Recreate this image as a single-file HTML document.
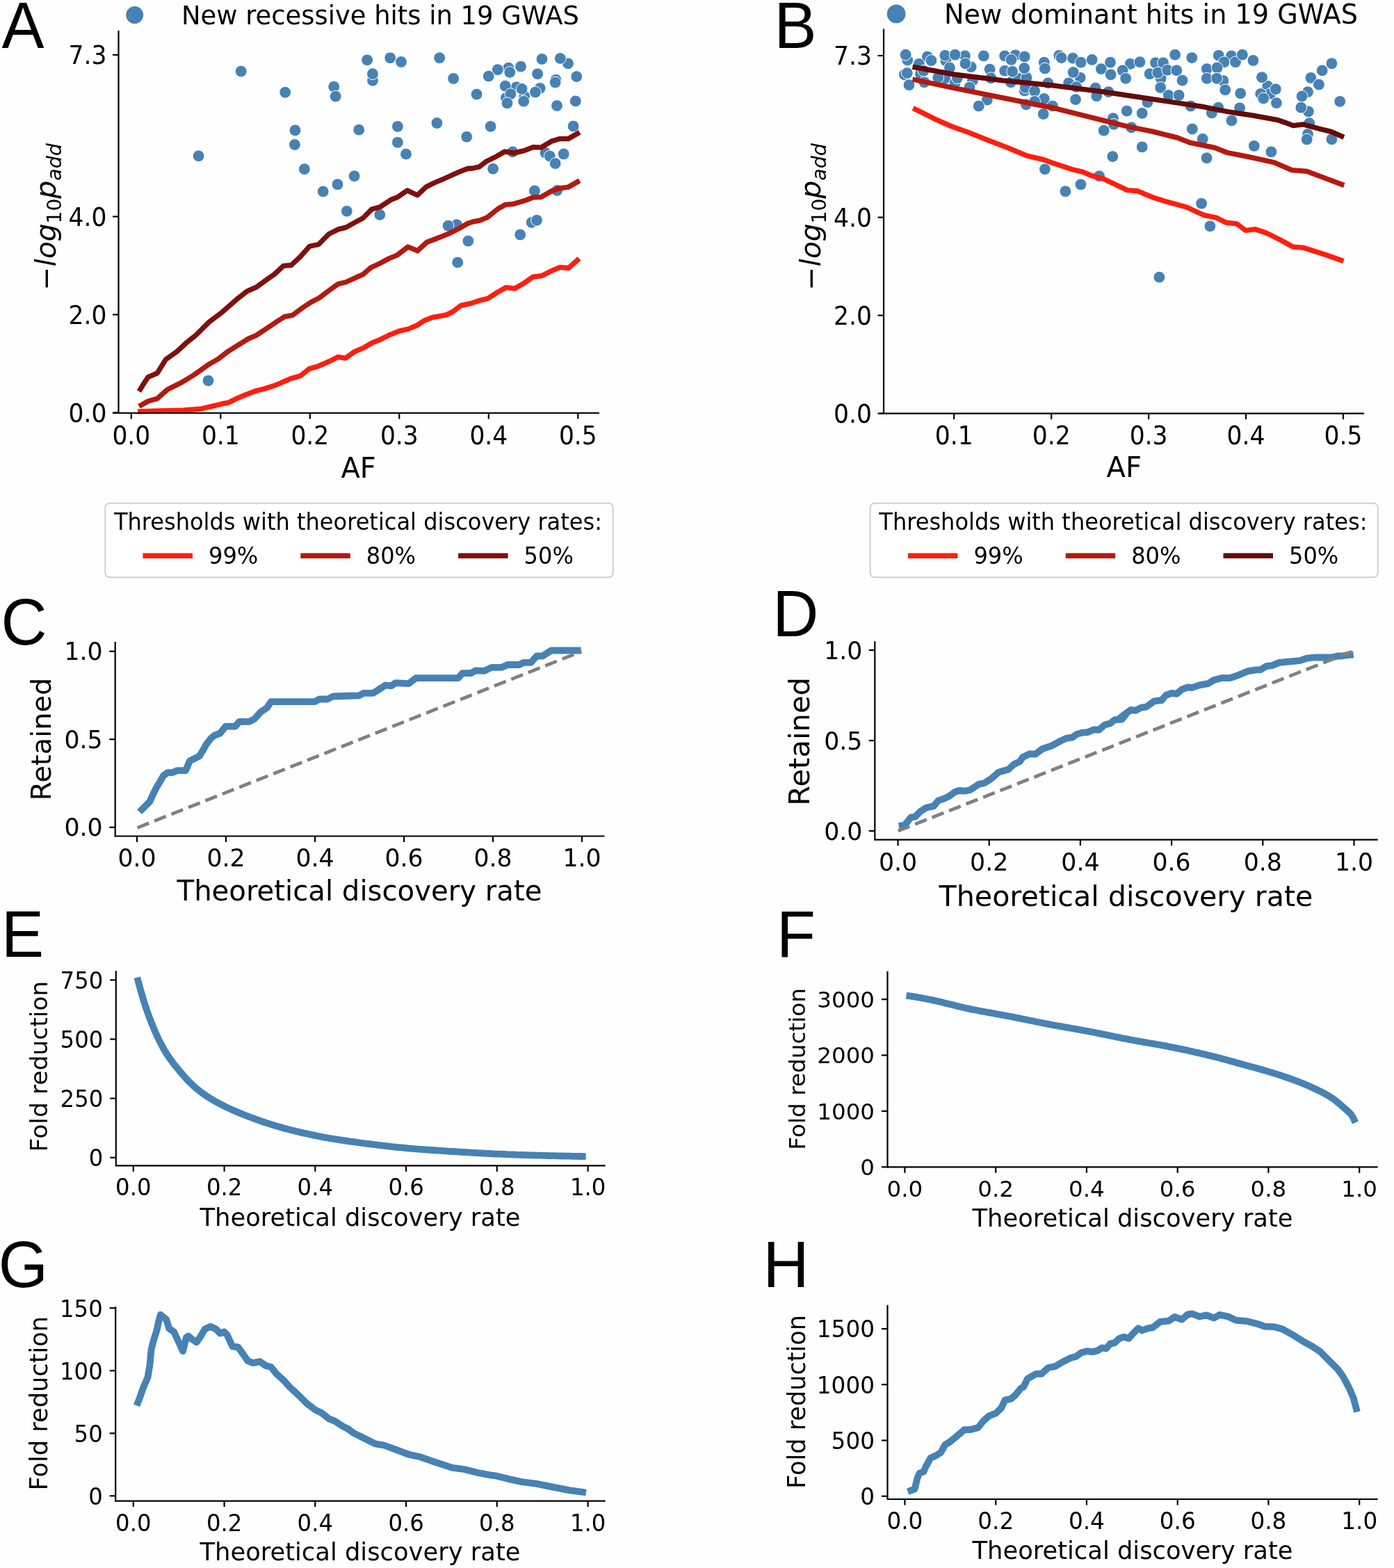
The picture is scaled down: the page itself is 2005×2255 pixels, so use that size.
<!DOCTYPE html>
<html><head><meta charset="utf-8"><style>
html,body{margin:0;padding:0;background:#fff;}
svg{display:block;}
</style></head><body>
<svg width="2005" height="2255" viewBox="0 0 2005 2255">
<rect width="2005" height="2255" fill="#fefefe"/>
<circle cx="193.7" cy="21.6" r="12.5" fill="#4682b4"/>
<circle cx="1289.1" cy="19.9" r="13.4" fill="#4682b4"/>
<rect x="151.3" y="723.7" width="730.4000000000001" height="106.5" rx="6" fill="#fff" stroke="#d0d0d0" stroke-width="2"/>
<rect x="1251.7" y="723.7" width="730.0" height="106.5" rx="6" fill="#fff" stroke="#d0d0d0" stroke-width="2"/>
<polyline points="200.6,1167.6 207.6,1160.6 215.5,1152.7 219.4,1143.8 225.4,1131.9 228.4,1127.0 235.3,1115.1 241.2,1111.1 248.2,1111.1 255.1,1108.1 267.0,1108.1 270.0,1101.2 272.9,1094.3 278.9,1091.3 286.8,1087.3 291.8,1079.4 296.7,1070.5 302.7,1062.6 308.6,1057.6 316.5,1054.6 324.5,1044.7 338.3,1044.7 344.3,1037.8 358.1,1037.8 366.1,1033.8 375.0,1023.9 383.9,1018.0 389.8,1009.1 453.2,1009.1 459.2,1005.5 471.1,1005.5 479.0,1001.5 516.7,1000.3 523.0,996.8 536.6,996.8 541.8,993.6 554.4,985.3 562.7,986.3 569.0,982.1 587.8,983.2 598.3,975.2 658.9,975.2 665.2,968.1 677.7,968.1 684.0,964.4 696.6,964.8 707.0,959.8 721.7,959.8 730.0,956.0 746.8,956.0 753.0,952.9 763.5,952.9 771.9,943.5 780.2,943.5 792.8,935.5 835.6,935.5" fill="none" stroke="#4682b4" stroke-width="9.8" stroke-linejoin="round" stroke-linecap="butt"/>
<polyline points="1292.7,1187.9 1300.8,1186.9 1305.9,1180.8 1310.0,1175.7 1316.1,1174.7 1324.2,1166.6 1332.4,1161.5 1342.6,1159.4 1349.7,1151.3 1358.8,1148.2 1365.0,1145.2 1373.1,1139.1 1379.2,1137.0 1387.4,1137.7 1395.5,1136.0 1407.7,1127.9 1415.9,1126.2 1426.0,1119.7 1436.2,1110.6 1450.5,1106.5 1458.6,1099.0 1466.8,1095.3 1470.8,1089.2 1481.0,1084.1 1489.2,1084.7 1499.3,1077.0 1511.6,1072.9 1517.7,1069.8 1525.8,1065.4 1534.0,1061.7 1542.1,1060.7 1548.2,1056.2 1556.4,1053.6 1564.5,1053.1 1572.7,1049.5 1580.8,1049.5 1588.9,1042.4 1597.1,1040.3 1603.2,1035.2 1613.4,1034.6 1619.5,1027.1 1610.0,1033.4 1616.3,1028.2 1626.7,1020.8 1633.0,1021.9 1641.4,1017.7 1648.7,1016.6 1660.2,1008.3 1670.6,1007.2 1676.9,999.9 1685.3,996.8 1692.6,997.8 1699.9,991.6 1708.3,988.4 1714.6,989.0 1725.0,985.3 1737.6,983.2 1745.9,978.0 1758.5,974.8 1768.9,975.2 1779.4,971.7 1794.0,965.4 1806.6,963.3 1812.8,963.3 1821.2,958.1 1829.6,957.1 1840.0,952.9 1850.5,951.8 1869.3,950.2 1879.8,946.6 1890.2,945.5 1902.8,945.5 1915.3,945.5 1923.7,943.5 1929.9,943.5 1936.2,942.4 1946.7,941.4" fill="none" stroke="#4682b4" stroke-width="9.8" stroke-linejoin="round" stroke-linecap="butt"/>
<polyline points="197.3,1405.8 200.6,1417.9 203.8,1429.4 207.1,1440.5 210.3,1450.4 213.5,1459.4 216.8,1467.9 220.0,1476.1 223.3,1484.0 226.5,1491.1 229.8,1497.8 233.0,1504.0 236.2,1509.9 239.5,1515.2 242.7,1520.1 246.0,1524.7 249.2,1529.0 252.5,1533.1 255.7,1537.0 258.9,1541.0 262.2,1544.8 265.4,1548.5 268.7,1552.1 271.9,1555.6 275.2,1558.8 278.4,1561.8 281.6,1564.6 284.9,1567.3 288.1,1569.9 291.4,1572.3 294.6,1574.6 297.8,1576.8 301.1,1578.8 304.3,1580.8 307.6,1582.7 310.8,1584.6 314.1,1586.3 317.3,1588.0 320.5,1589.7 323.8,1591.3 327.0,1592.9 330.3,1594.4 333.5,1595.9 336.8,1597.3 340.0,1598.7 343.2,1600.1 346.5,1601.4 349.7,1602.7 353.0,1604.0 356.2,1605.3 359.5,1606.5 362.7,1607.7 365.9,1608.9 369.2,1610.1 372.4,1611.2 375.7,1612.4 378.9,1613.5 382.1,1614.6 385.4,1615.6 388.6,1616.6 391.9,1617.6 395.1,1618.6 398.4,1619.6 401.6,1620.5 404.8,1621.5 408.1,1622.4 411.3,1623.3 414.6,1624.1 417.8,1625.0 421.1,1625.8 424.3,1626.6 427.5,1627.4 430.8,1628.1 434.0,1628.9 437.3,1629.6 440.5,1630.3 443.8,1631.0 447.0,1631.7 450.2,1632.4 453.5,1633.1 456.7,1633.7 460.0,1634.4 463.2,1635.0 466.4,1635.6 469.7,1636.2 472.9,1636.8 476.2,1637.3 479.4,1637.9 482.7,1638.4 485.9,1638.9 489.1,1639.4 492.4,1639.9 495.6,1640.4 498.9,1640.9 502.1,1641.4 505.4,1641.8 508.6,1642.2 511.8,1642.7 515.1,1643.1 518.3,1643.5 521.6,1644.0 524.8,1644.4 528.1,1644.8 531.3,1645.2 534.5,1645.6 537.8,1646.0 541.0,1646.4 544.3,1646.8 547.5,1647.2 550.7,1647.6 554.0,1648.0 557.2,1648.3 560.5,1648.7 563.7,1649.1 567.0,1649.4 570.2,1649.8 573.4,1650.1 576.7,1650.4 579.9,1650.7 583.2,1651.0 586.4,1651.3 589.7,1651.6 592.9,1651.9 596.1,1652.1 599.4,1652.4 602.6,1652.7 605.9,1652.9 609.1,1653.1 612.4,1653.4 615.6,1653.6 618.8,1653.8 622.1,1654.0 625.3,1654.3 628.6,1654.5 631.8,1654.7 635.0,1654.9 638.3,1655.1 641.5,1655.3 644.8,1655.6 648.0,1655.8 651.3,1656.0 654.5,1656.2 657.7,1656.4 661.0,1656.6 664.2,1656.8 667.5,1657.0 670.7,1657.2 674.0,1657.4 677.2,1657.6 680.4,1657.8 683.7,1658.0 686.9,1658.2 690.2,1658.4 693.4,1658.5 696.7,1658.7 699.9,1658.9 703.1,1659.0 706.4,1659.2 709.6,1659.3 712.9,1659.5 716.1,1659.6 719.3,1659.7 722.6,1659.9 725.8,1660.0 729.1,1660.2 732.3,1660.3 735.6,1660.4 738.8,1660.5 742.0,1660.7 745.3,1660.8 748.5,1660.9 751.8,1661.0 755.0,1661.1 758.3,1661.2 761.5,1661.3 764.7,1661.4 768.0,1661.5 771.2,1661.6 774.5,1661.6 777.7,1661.7 781.0,1661.8 784.2,1661.9 787.4,1662.0 790.7,1662.1 793.9,1662.2 797.2,1662.2 800.4,1662.3 803.6,1662.4 806.9,1662.5 810.1,1662.5 813.4,1662.6 816.6,1662.7 819.9,1662.7 823.1,1662.8 826.3,1662.9 829.6,1662.9 832.8,1663.0 836.1,1663.0 839.3,1663.1 842.6,1663.1" fill="none" stroke="#4682b4" stroke-width="9.8" stroke-linejoin="round" stroke-linecap="butt"/>
<polyline points="1303.5,1431.6 1306.7,1432.1 1310.0,1432.6 1313.2,1433.1 1316.5,1433.7 1319.7,1434.2 1323.0,1434.8 1326.2,1435.4 1329.5,1436.0 1332.7,1436.6 1335.9,1437.3 1339.2,1437.9 1342.4,1438.6 1345.7,1439.3 1348.9,1440.1 1352.2,1440.8 1355.4,1441.6 1358.7,1442.4 1361.9,1443.2 1365.2,1444.0 1368.4,1444.8 1371.7,1445.6 1374.9,1446.4 1378.1,1447.2 1381.4,1448.0 1384.6,1448.8 1387.9,1449.5 1391.1,1450.2 1394.4,1450.9 1397.6,1451.6 1400.9,1452.2 1404.1,1452.8 1407.4,1453.5 1410.6,1454.1 1413.9,1454.7 1417.1,1455.3 1420.3,1455.9 1423.6,1456.4 1426.8,1457.0 1430.1,1457.6 1433.3,1458.2 1436.6,1458.8 1439.8,1459.4 1443.1,1460.0 1446.3,1460.6 1449.6,1461.2 1452.8,1461.8 1456.1,1462.4 1459.3,1463.1 1462.5,1463.7 1465.8,1464.4 1469.0,1465.0 1472.3,1465.7 1475.5,1466.4 1478.8,1467.0 1482.0,1467.7 1485.3,1468.3 1488.5,1469.0 1491.8,1469.7 1495.0,1470.3 1498.3,1471.0 1501.5,1471.6 1504.7,1472.2 1508.0,1472.9 1511.2,1473.5 1514.5,1474.1 1517.7,1474.7 1521.0,1475.3 1524.2,1475.8 1527.5,1476.4 1530.7,1477.0 1534.0,1477.6 1537.2,1478.1 1540.5,1478.7 1543.7,1479.3 1546.9,1479.9 1550.2,1480.4 1553.4,1481.0 1556.7,1481.6 1559.9,1482.2 1563.2,1482.8 1566.4,1483.4 1569.7,1484.0 1572.9,1484.6 1576.2,1485.3 1579.4,1485.9 1582.7,1486.6 1585.9,1487.2 1589.1,1487.9 1592.4,1488.5 1595.6,1489.2 1598.9,1489.9 1602.1,1490.5 1605.4,1491.2 1608.6,1491.9 1611.9,1492.5 1615.1,1493.2 1618.4,1493.8 1621.6,1494.4 1624.9,1495.1 1628.1,1495.7 1631.3,1496.3 1634.6,1496.9 1637.8,1497.4 1641.1,1498.0 1644.3,1498.6 1647.6,1499.1 1650.8,1499.7 1654.1,1500.3 1657.3,1500.8 1660.6,1501.4 1663.8,1502.0 1667.1,1502.5 1670.3,1503.1 1673.5,1503.7 1676.8,1504.3 1680.0,1505.0 1683.3,1505.6 1686.5,1506.2 1689.8,1506.9 1693.0,1507.6 1696.3,1508.2 1699.5,1508.9 1702.8,1509.6 1706.0,1510.3 1709.3,1511.0 1712.5,1511.7 1715.7,1512.4 1719.0,1513.2 1722.2,1513.9 1725.5,1514.6 1728.7,1515.4 1732.0,1516.1 1735.2,1516.9 1738.5,1517.7 1741.7,1518.5 1745.0,1519.3 1748.2,1520.1 1751.5,1520.9 1754.7,1521.8 1758.0,1522.7 1761.2,1523.5 1764.4,1524.4 1767.7,1525.3 1770.9,1526.2 1774.2,1527.1 1777.4,1528.0 1780.7,1528.9 1783.9,1529.8 1787.2,1530.7 1790.4,1531.6 1793.7,1532.5 1796.9,1533.4 1800.2,1534.2 1803.4,1535.1 1806.6,1536.0 1809.9,1536.9 1813.1,1537.7 1816.4,1538.7 1819.6,1539.6 1822.9,1540.6 1826.1,1541.6 1829.4,1542.6 1832.6,1543.6 1835.9,1544.6 1839.1,1545.6 1842.4,1546.7 1845.6,1547.8 1848.8,1548.9 1852.1,1550.0 1855.3,1551.2 1858.6,1552.3 1861.8,1553.5 1865.1,1554.8 1868.3,1556.0 1871.6,1557.3 1874.8,1558.6 1878.1,1559.9 1881.3,1561.3 1884.6,1562.7 1887.8,1564.2 1891.0,1565.7 1894.3,1567.2 1897.5,1568.8 1900.8,1570.4 1904.0,1572.1 1907.3,1573.9 1910.5,1575.8 1913.8,1577.8 1917.0,1579.9 1920.3,1582.3 1923.5,1584.9 1926.8,1587.6 1930.0,1590.4 1933.2,1593.3 1936.5,1596.1 1939.7,1599.0 1943.0,1602.4 1946.2,1607.2 1949.5,1614.5" fill="none" stroke="#4682b4" stroke-width="9.8" stroke-linejoin="round" stroke-linecap="butt"/>
<polyline points="196.7,2021.5 201.6,2008.6 205.6,1996.7 212.5,1980.9 215.5,1963.0 217.5,1941.2 220.4,1929.3 225.4,1913.5 228.4,1899.6 230.9,1890.7 234.3,1893.7 239.3,1897.6 243.2,1910.5 250.2,1915.5 257.1,1930.3 263.0,1943.2 268.0,1923.4 271.0,1921.4 276.9,1926.4 282.8,1930.3 288.8,1921.4 294.7,1911.5 302.7,1907.6 310.6,1911.5 316.5,1917.5 322.5,1915.5 326.4,1919.4 334.4,1936.3 342.3,1937.3 348.2,1945.2 356.2,1957.1 364.1,1960.1 374.0,1958.1 381.9,1964.0 389.8,1966.0 397.8,1975.9 407.7,1984.8 417.6,1995.7 429.5,2006.6 441.4,2018.5 453.2,2027.4 463.2,2032.4 473.1,2040.3 481.0,2043.3 492.9,2051.2 500.8,2055.2 500.0,2054.5 508.4,2060.8 520.9,2067.0 539.7,2076.4 552.3,2078.5 566.9,2083.8 587.8,2091.7 604.6,2095.3 625.5,2102.6 650.6,2110.9 667.3,2113.0 688.2,2118.3 704.9,2121.4 713.3,2122.4 730.0,2126.6 750.9,2131.2 771.9,2133.9 792.8,2138.1 819.9,2143.4 843.0,2146.5" fill="none" stroke="#4682b4" stroke-width="9.8" stroke-linejoin="round" stroke-linecap="butt"/>
<polyline points="1305.7,2145.3 1315.6,2141.4 1319.5,2125.5 1322.5,2118.6 1328.5,2116.6 1331.4,2109.7 1338.4,2096.8 1345.3,2093.8 1353.2,2088.8 1359.2,2078.0 1367.1,2073.0 1379.0,2063.1 1386.9,2056.2 1394.8,2056.2 1406.7,2053.2 1414.6,2043.3 1422.6,2036.3 1432.5,2032.4 1440.4,2024.5 1445.4,2013.6 1454.3,2011.6 1460.2,2006.6 1468.1,1996.7 1472.1,1994.7 1478.0,1982.8 1489.9,1975.9 1497.9,1975.9 1507.8,1967.0 1517.7,1965.0 1527.6,1959.1 1539.5,1953.1 1547.4,1951.1 1555.3,1945.2 1563.2,1943.2 1571.2,1944.2 1579.1,1942.2 1585.0,1938.3 1591.0,1939.3 1596.9,1932.3 1602.9,1931.3 1610.0,1924.8 1616.3,1922.7 1623.6,1924.8 1630.9,1916.5 1637.2,1910.2 1642.4,1913.3 1651.8,1910.2 1658.1,1909.1 1668.6,1900.8 1681.1,1899.7 1689.5,1893.9 1699.9,1897.6 1708.3,1890.3 1714.6,1889.3 1725.0,1893.5 1735.5,1891.4 1745.9,1895.5 1754.3,1890.9 1766.8,1893.5 1777.3,1898.7 1794.0,1900.2 1808.7,1903.9 1819.1,1907.7 1831.7,1908.1 1844.2,1911.2 1860.9,1920.6 1877.7,1931.1 1886.0,1935.3 1898.6,1943.6 1911.1,1956.2 1923.7,1968.7 1932.0,1980.2 1940.4,1995.9 1946.7,2010.6 1951.9,2030.4" fill="none" stroke="#4682b4" stroke-width="9.8" stroke-linejoin="round" stroke-linecap="butt"/>
<polyline points="197.6,1190.4 836.6,936.7" fill="none" stroke="#808080" stroke-width="4.8" stroke-linejoin="round" stroke-dasharray="17.9 8.4" stroke-linecap="butt"/>
<polyline points="1291.7,1195.0 1946.7,936.1" fill="none" stroke="#808080" stroke-width="4.8" stroke-linejoin="round" stroke-dasharray="17.9 8.4" stroke-linecap="butt"/>
<circle cx="536.0" cy="115.8" r="8.4" fill="#4682b4" stroke="#fff" stroke-width="1.0"/>
<circle cx="656.9" cy="323.1" r="8.4" fill="#4682b4" stroke="#fff" stroke-width="1.0"/>
<circle cx="731.4" cy="97.6" r="8.4" fill="#4682b4" stroke="#fff" stroke-width="1.0"/>
<circle cx="742.7" cy="125.3" r="8.4" fill="#4682b4" stroke="#fff" stroke-width="1.0"/>
<circle cx="776.7" cy="126.9" r="8.4" fill="#4682b4" stroke="#fff" stroke-width="1.0"/>
<circle cx="727.9" cy="141.0" r="8.4" fill="#4682b4" stroke="#fff" stroke-width="1.0"/>
<circle cx="754.2" cy="138.4" r="8.4" fill="#4682b4" stroke="#fff" stroke-width="1.0"/>
<circle cx="799.5" cy="114.8" r="8.4" fill="#4682b4" stroke="#fff" stroke-width="1.0"/>
<circle cx="817.0" cy="91.3" r="8.4" fill="#4682b4" stroke="#fff" stroke-width="1.0"/>
<circle cx="784.6" cy="219.9" r="8.4" fill="#4682b4" stroke="#fff" stroke-width="1.0"/>
<circle cx="764.7" cy="319.9" r="8.4" fill="#4682b4" stroke="#fff" stroke-width="1.0"/>
<circle cx="346.7" cy="102.6" r="8.4" fill="#4682b4" stroke="#fff" stroke-width="1.0"/>
<circle cx="285.6" cy="224.3" r="8.4" fill="#4682b4" stroke="#fff" stroke-width="1.0"/>
<circle cx="410.2" cy="132.8" r="8.4" fill="#4682b4" stroke="#fff" stroke-width="1.0"/>
<circle cx="480.2" cy="124.7" r="8.4" fill="#4682b4" stroke="#fff" stroke-width="1.0"/>
<circle cx="482.7" cy="138.6" r="8.4" fill="#4682b4" stroke="#fff" stroke-width="1.0"/>
<circle cx="424.5" cy="187.4" r="8.4" fill="#4682b4" stroke="#fff" stroke-width="1.0"/>
<circle cx="423.9" cy="208.0" r="8.4" fill="#4682b4" stroke="#fff" stroke-width="1.0"/>
<circle cx="437.8" cy="243.2" r="8.4" fill="#4682b4" stroke="#fff" stroke-width="1.0"/>
<circle cx="464.7" cy="275.4" r="8.4" fill="#4682b4" stroke="#fff" stroke-width="1.0"/>
<circle cx="485.5" cy="265.2" r="8.4" fill="#4682b4" stroke="#fff" stroke-width="1.0"/>
<circle cx="509.6" cy="253.2" r="8.4" fill="#4682b4" stroke="#fff" stroke-width="1.0"/>
<circle cx="498.8" cy="303.7" r="8.4" fill="#4682b4" stroke="#fff" stroke-width="1.0"/>
<circle cx="528.1" cy="86.3" r="8.4" fill="#4682b4" stroke="#fff" stroke-width="1.0"/>
<circle cx="561.2" cy="83.3" r="8.4" fill="#4682b4" stroke="#fff" stroke-width="1.0"/>
<circle cx="577.0" cy="89.0" r="8.4" fill="#4682b4" stroke="#fff" stroke-width="1.0"/>
<circle cx="535.9" cy="106.2" r="8.4" fill="#4682b4" stroke="#fff" stroke-width="1.0"/>
<circle cx="632.2" cy="83.2" r="8.4" fill="#4682b4" stroke="#fff" stroke-width="1.0"/>
<circle cx="652.1" cy="113.0" r="8.4" fill="#4682b4" stroke="#fff" stroke-width="1.0"/>
<circle cx="685.6" cy="135.6" r="8.4" fill="#4682b4" stroke="#fff" stroke-width="1.0"/>
<circle cx="516.2" cy="186.7" r="8.4" fill="#4682b4" stroke="#fff" stroke-width="1.0"/>
<circle cx="571.9" cy="181.9" r="8.4" fill="#4682b4" stroke="#fff" stroke-width="1.0"/>
<circle cx="571.9" cy="204.8" r="8.4" fill="#4682b4" stroke="#fff" stroke-width="1.0"/>
<circle cx="584.0" cy="221.6" r="8.4" fill="#4682b4" stroke="#fff" stroke-width="1.0"/>
<circle cx="628.4" cy="177.0" r="8.4" fill="#4682b4" stroke="#fff" stroke-width="1.0"/>
<circle cx="671.2" cy="196.8" r="8.4" fill="#4682b4" stroke="#fff" stroke-width="1.0"/>
<circle cx="546.3" cy="308.9" r="8.4" fill="#4682b4" stroke="#fff" stroke-width="1.0"/>
<circle cx="644.6" cy="324.6" r="8.4" fill="#4682b4" stroke="#fff" stroke-width="1.0"/>
<circle cx="673.4" cy="346.6" r="8.4" fill="#4682b4" stroke="#fff" stroke-width="1.0"/>
<circle cx="658.2" cy="377.4" r="8.4" fill="#4682b4" stroke="#fff" stroke-width="1.0"/>
<circle cx="779.5" cy="85.0" r="8.4" fill="#4682b4" stroke="#fff" stroke-width="1.0"/>
<circle cx="805.8" cy="84.0" r="8.4" fill="#4682b4" stroke="#fff" stroke-width="1.0"/>
<circle cx="749.0" cy="95.7" r="8.4" fill="#4682b4" stroke="#fff" stroke-width="1.0"/>
<circle cx="733.3" cy="103.9" r="8.4" fill="#4682b4" stroke="#fff" stroke-width="1.0"/>
<circle cx="715.8" cy="100.2" r="8.4" fill="#4682b4" stroke="#fff" stroke-width="1.0"/>
<circle cx="702.8" cy="109.6" r="8.4" fill="#4682b4" stroke="#fff" stroke-width="1.0"/>
<circle cx="773.1" cy="106.3" r="8.4" fill="#4682b4" stroke="#fff" stroke-width="1.0"/>
<circle cx="798.7" cy="118.5" r="8.4" fill="#4682b4" stroke="#fff" stroke-width="1.0"/>
<circle cx="829.3" cy="110.1" r="8.4" fill="#4682b4" stroke="#fff" stroke-width="1.0"/>
<circle cx="726.7" cy="123.7" r="8.4" fill="#4682b4" stroke="#fff" stroke-width="1.0"/>
<circle cx="750.6" cy="127.9" r="8.4" fill="#4682b4" stroke="#fff" stroke-width="1.0"/>
<circle cx="769.9" cy="132.6" r="8.4" fill="#4682b4" stroke="#fff" stroke-width="1.0"/>
<circle cx="734.4" cy="135.2" r="8.4" fill="#4682b4" stroke="#fff" stroke-width="1.0"/>
<circle cx="729.5" cy="148.3" r="8.4" fill="#4682b4" stroke="#fff" stroke-width="1.0"/>
<circle cx="753.2" cy="145.7" r="8.4" fill="#4682b4" stroke="#fff" stroke-width="1.0"/>
<circle cx="801.0" cy="152.0" r="8.4" fill="#4682b4" stroke="#fff" stroke-width="1.0"/>
<circle cx="827.8" cy="145.4" r="8.4" fill="#4682b4" stroke="#fff" stroke-width="1.0"/>
<circle cx="705.6" cy="181.8" r="8.4" fill="#4682b4" stroke="#fff" stroke-width="1.0"/>
<circle cx="824.6" cy="181.5" r="8.4" fill="#4682b4" stroke="#fff" stroke-width="1.0"/>
<circle cx="737.3" cy="218.4" r="8.4" fill="#4682b4" stroke="#fff" stroke-width="1.0"/>
<circle cx="790.8" cy="224.6" r="8.4" fill="#4682b4" stroke="#fff" stroke-width="1.0"/>
<circle cx="810.7" cy="221.5" r="8.4" fill="#4682b4" stroke="#fff" stroke-width="1.0"/>
<circle cx="798.7" cy="235.1" r="8.4" fill="#4682b4" stroke="#fff" stroke-width="1.0"/>
<circle cx="709.1" cy="242.8" r="8.4" fill="#4682b4" stroke="#fff" stroke-width="1.0"/>
<circle cx="768.9" cy="274.4" r="8.4" fill="#4682b4" stroke="#fff" stroke-width="1.0"/>
<circle cx="801.3" cy="273.9" r="8.4" fill="#4682b4" stroke="#fff" stroke-width="1.0"/>
<circle cx="772.0" cy="316.8" r="8.4" fill="#4682b4" stroke="#fff" stroke-width="1.0"/>
<circle cx="748.2" cy="337.5" r="8.4" fill="#4682b4" stroke="#fff" stroke-width="1.0"/>
<circle cx="299.5" cy="547.4" r="8.4" fill="#4682b4" stroke="#fff" stroke-width="1.0"/>
<circle cx="1305.3" cy="86.4" r="8.4" fill="#4682b4" stroke="#fff" stroke-width="1.0"/>
<circle cx="1333.9" cy="81.5" r="8.4" fill="#4682b4" stroke="#fff" stroke-width="1.0"/>
<circle cx="1360.4" cy="87.5" r="8.4" fill="#4682b4" stroke="#fff" stroke-width="1.0"/>
<circle cx="1387.9" cy="80.4" r="8.4" fill="#4682b4" stroke="#fff" stroke-width="1.0"/>
<circle cx="1396.7" cy="96.3" r="8.4" fill="#4682b4" stroke="#fff" stroke-width="1.0"/>
<circle cx="1445.1" cy="80.4" r="8.4" fill="#4682b4" stroke="#fff" stroke-width="1.0"/>
<circle cx="1460.5" cy="79.3" r="8.4" fill="#4682b4" stroke="#fff" stroke-width="1.0"/>
<circle cx="1300.9" cy="107.3" r="8.4" fill="#4682b4" stroke="#fff" stroke-width="1.0"/>
<circle cx="1321.8" cy="91.9" r="8.4" fill="#4682b4" stroke="#fff" stroke-width="1.0"/>
<circle cx="1324.0" cy="106.2" r="8.4" fill="#4682b4" stroke="#fff" stroke-width="1.0"/>
<circle cx="1359.3" cy="112.8" r="8.4" fill="#4682b4" stroke="#fff" stroke-width="1.0"/>
<circle cx="1365.9" cy="97.4" r="8.4" fill="#4682b4" stroke="#fff" stroke-width="1.0"/>
<circle cx="1373.6" cy="119.4" r="8.4" fill="#4682b4" stroke="#fff" stroke-width="1.0"/>
<circle cx="1398.9" cy="116.1" r="8.4" fill="#4682b4" stroke="#fff" stroke-width="1.0"/>
<circle cx="1445.1" cy="101.8" r="8.4" fill="#4682b4" stroke="#fff" stroke-width="1.0"/>
<circle cx="1453.9" cy="118.3" r="8.4" fill="#4682b4" stroke="#fff" stroke-width="1.0"/>
<circle cx="1464.9" cy="112.8" r="8.4" fill="#4682b4" stroke="#fff" stroke-width="1.0"/>
<circle cx="1473.7" cy="130.4" r="8.4" fill="#4682b4" stroke="#fff" stroke-width="1.0"/>
<circle cx="1329.5" cy="118.3" r="8.4" fill="#4682b4" stroke="#fff" stroke-width="1.0"/>
<circle cx="1419.8" cy="143.7" r="8.4" fill="#4682b4" stroke="#fff" stroke-width="1.0"/>
<circle cx="1476.5" cy="111.7" r="8.4" fill="#4682b4" stroke="#fff" stroke-width="1.0"/>
<circle cx="1501.8" cy="89.7" r="8.4" fill="#4682b4" stroke="#fff" stroke-width="1.0"/>
<circle cx="1523.3" cy="79.8" r="8.4" fill="#4682b4" stroke="#fff" stroke-width="1.0"/>
<circle cx="1553.6" cy="111.7" r="8.4" fill="#4682b4" stroke="#fff" stroke-width="1.0"/>
<circle cx="1537.1" cy="119.4" r="8.4" fill="#4682b4" stroke="#fff" stroke-width="1.0"/>
<circle cx="1625.7" cy="91.9" r="8.4" fill="#4682b4" stroke="#fff" stroke-width="1.0"/>
<circle cx="1600.9" cy="170.1" r="8.4" fill="#4682b4" stroke="#fff" stroke-width="1.0"/>
<circle cx="1662.0" cy="90.3" r="8.4" fill="#4682b4" stroke="#fff" stroke-width="1.0"/>
<circle cx="1653.2" cy="106.2" r="8.4" fill="#4682b4" stroke="#fff" stroke-width="1.0"/>
<circle cx="1669.7" cy="112.8" r="8.4" fill="#4682b4" stroke="#fff" stroke-width="1.0"/>
<circle cx="1752.8" cy="79.8" r="8.4" fill="#4682b4" stroke="#fff" stroke-width="1.0"/>
<circle cx="1771.0" cy="80.4" r="8.4" fill="#4682b4" stroke="#fff" stroke-width="1.0"/>
<circle cx="1735.8" cy="99.1" r="8.4" fill="#4682b4" stroke="#fff" stroke-width="1.0"/>
<circle cx="1759.4" cy="116.1" r="8.4" fill="#4682b4" stroke="#fff" stroke-width="1.0"/>
<circle cx="1823.3" cy="123.8" r="8.4" fill="#4682b4" stroke="#fff" stroke-width="1.0"/>
<circle cx="1827.1" cy="134.8" r="8.4" fill="#4682b4" stroke="#fff" stroke-width="1.0"/>
<circle cx="1752.3" cy="154.7" r="8.4" fill="#4682b4" stroke="#fff" stroke-width="1.0"/>
<circle cx="1813.2" cy="134.9" r="8.4" fill="#4682b4" stroke="#fff" stroke-width="1.0"/>
<circle cx="1881.0" cy="132.2" r="8.4" fill="#4682b4" stroke="#fff" stroke-width="1.0"/>
<circle cx="1881.9" cy="160.4" r="8.4" fill="#4682b4" stroke="#fff" stroke-width="1.0"/>
<circle cx="1883.2" cy="177.1" r="8.4" fill="#4682b4" stroke="#fff" stroke-width="1.0"/>
<circle cx="1881.0" cy="193.0" r="8.4" fill="#4682b4" stroke="#fff" stroke-width="1.0"/>
<circle cx="1581.1" cy="253.2" r="8.4" fill="#4682b4" stroke="#fff" stroke-width="1.0"/>
<circle cx="1302.6" cy="78.7" r="8.4" fill="#4682b4" stroke="#fff" stroke-width="1.0"/>
<circle cx="1339.4" cy="87.0" r="8.4" fill="#4682b4" stroke="#fff" stroke-width="1.0"/>
<circle cx="1359.3" cy="79.8" r="8.4" fill="#4682b4" stroke="#fff" stroke-width="1.0"/>
<circle cx="1373.6" cy="78.7" r="8.4" fill="#4682b4" stroke="#fff" stroke-width="1.0"/>
<circle cx="1388.4" cy="91.4" r="8.4" fill="#4682b4" stroke="#fff" stroke-width="1.0"/>
<circle cx="1414.8" cy="80.4" r="8.4" fill="#4682b4" stroke="#fff" stroke-width="1.0"/>
<circle cx="1454.5" cy="85.9" r="8.4" fill="#4682b4" stroke="#fff" stroke-width="1.0"/>
<circle cx="1473.7" cy="81.5" r="8.4" fill="#4682b4" stroke="#fff" stroke-width="1.0"/>
<circle cx="1304.8" cy="105.1" r="8.4" fill="#4682b4" stroke="#fff" stroke-width="1.0"/>
<circle cx="1328.4" cy="101.8" r="8.4" fill="#4682b4" stroke="#fff" stroke-width="1.0"/>
<circle cx="1349.3" cy="111.7" r="8.4" fill="#4682b4" stroke="#fff" stroke-width="1.0"/>
<circle cx="1376.9" cy="112.3" r="8.4" fill="#4682b4" stroke="#fff" stroke-width="1.0"/>
<circle cx="1394.5" cy="125.5" r="8.4" fill="#4682b4" stroke="#fff" stroke-width="1.0"/>
<circle cx="1423.6" cy="99.6" r="8.4" fill="#4682b4" stroke="#fff" stroke-width="1.0"/>
<circle cx="1425.3" cy="112.3" r="8.4" fill="#4682b4" stroke="#fff" stroke-width="1.0"/>
<circle cx="1456.1" cy="102.9" r="8.4" fill="#4682b4" stroke="#fff" stroke-width="1.0"/>
<circle cx="1473.2" cy="98.0" r="8.4" fill="#4682b4" stroke="#fff" stroke-width="1.0"/>
<circle cx="1474.8" cy="126.0" r="8.4" fill="#4682b4" stroke="#fff" stroke-width="1.0"/>
<circle cx="1307.5" cy="122.2" r="8.4" fill="#4682b4" stroke="#fff" stroke-width="1.0"/>
<circle cx="1407.7" cy="152.5" r="8.4" fill="#4682b4" stroke="#fff" stroke-width="1.0"/>
<circle cx="1475.9" cy="150.3" r="8.4" fill="#4682b4" stroke="#fff" stroke-width="1.0"/>
<circle cx="1488.1" cy="131.0" r="8.4" fill="#4682b4" stroke="#fff" stroke-width="1.0"/>
<circle cx="1501.8" cy="142.0" r="8.4" fill="#4682b4" stroke="#fff" stroke-width="1.0"/>
<circle cx="1502.9" cy="98.5" r="8.4" fill="#4682b4" stroke="#fff" stroke-width="1.0"/>
<circle cx="1507.3" cy="119.4" r="8.4" fill="#4682b4" stroke="#fff" stroke-width="1.0"/>
<circle cx="1526.6" cy="83.1" r="8.4" fill="#4682b4" stroke="#fff" stroke-width="1.0"/>
<circle cx="1543.1" cy="83.7" r="8.4" fill="#4682b4" stroke="#fff" stroke-width="1.0"/>
<circle cx="1554.7" cy="89.7" r="8.4" fill="#4682b4" stroke="#fff" stroke-width="1.0"/>
<circle cx="1570.6" cy="85.9" r="8.4" fill="#4682b4" stroke="#fff" stroke-width="1.0"/>
<circle cx="1583.8" cy="99.1" r="8.4" fill="#4682b4" stroke="#fff" stroke-width="1.0"/>
<circle cx="1597.0" cy="89.7" r="8.4" fill="#4682b4" stroke="#fff" stroke-width="1.0"/>
<circle cx="1597.6" cy="107.3" r="8.4" fill="#4682b4" stroke="#fff" stroke-width="1.0"/>
<circle cx="1614.7" cy="101.3" r="8.4" fill="#4682b4" stroke="#fff" stroke-width="1.0"/>
<circle cx="1619.1" cy="112.8" r="8.4" fill="#4682b4" stroke="#fff" stroke-width="1.0"/>
<circle cx="1639.4" cy="89.2" r="8.4" fill="#4682b4" stroke="#fff" stroke-width="1.0"/>
<circle cx="1653.7" cy="106.2" r="8.4" fill="#4682b4" stroke="#fff" stroke-width="1.0"/>
<circle cx="1543.7" cy="104.0" r="8.4" fill="#4682b4" stroke="#fff" stroke-width="1.0"/>
<circle cx="1548.1" cy="124.9" r="8.4" fill="#4682b4" stroke="#fff" stroke-width="1.0"/>
<circle cx="1547.0" cy="143.1" r="8.4" fill="#4682b4" stroke="#fff" stroke-width="1.0"/>
<circle cx="1575.6" cy="126.6" r="8.4" fill="#4682b4" stroke="#fff" stroke-width="1.0"/>
<circle cx="1577.2" cy="138.2" r="8.4" fill="#4682b4" stroke="#fff" stroke-width="1.0"/>
<circle cx="1594.3" cy="132.1" r="8.4" fill="#4682b4" stroke="#fff" stroke-width="1.0"/>
<circle cx="1650.4" cy="147.0" r="8.4" fill="#4682b4" stroke="#fff" stroke-width="1.0"/>
<circle cx="1488.1" cy="145.9" r="8.4" fill="#4682b4" stroke="#fff" stroke-width="1.0"/>
<circle cx="1513.9" cy="152.5" r="8.4" fill="#4682b4" stroke="#fff" stroke-width="1.0"/>
<circle cx="1500.7" cy="164.0" r="8.4" fill="#4682b4" stroke="#fff" stroke-width="1.0"/>
<circle cx="1620.7" cy="159.6" r="8.4" fill="#4682b4" stroke="#fff" stroke-width="1.0"/>
<circle cx="1642.7" cy="162.9" r="8.4" fill="#4682b4" stroke="#fff" stroke-width="1.0"/>
<circle cx="1602.0" cy="178.9" r="8.4" fill="#4682b4" stroke="#fff" stroke-width="1.0"/>
<circle cx="1587.7" cy="187.7" r="8.4" fill="#4682b4" stroke="#fff" stroke-width="1.0"/>
<circle cx="1627.3" cy="183.3" r="8.4" fill="#4682b4" stroke="#fff" stroke-width="1.0"/>
<circle cx="1690.1" cy="78.7" r="8.4" fill="#4682b4" stroke="#fff" stroke-width="1.0"/>
<circle cx="1714.3" cy="83.1" r="8.4" fill="#4682b4" stroke="#fff" stroke-width="1.0"/>
<circle cx="1673.0" cy="90.3" r="8.4" fill="#4682b4" stroke="#fff" stroke-width="1.0"/>
<circle cx="1665.3" cy="104.6" r="8.4" fill="#4682b4" stroke="#fff" stroke-width="1.0"/>
<circle cx="1679.1" cy="100.7" r="8.4" fill="#4682b4" stroke="#fff" stroke-width="1.0"/>
<circle cx="1692.3" cy="101.3" r="8.4" fill="#4682b4" stroke="#fff" stroke-width="1.0"/>
<circle cx="1700.5" cy="115.6" r="8.4" fill="#4682b4" stroke="#fff" stroke-width="1.0"/>
<circle cx="1669.2" cy="126.0" r="8.4" fill="#4682b4" stroke="#fff" stroke-width="1.0"/>
<circle cx="1680.7" cy="137.0" r="8.4" fill="#4682b4" stroke="#fff" stroke-width="1.0"/>
<circle cx="1695.6" cy="137.0" r="8.4" fill="#4682b4" stroke="#fff" stroke-width="1.0"/>
<circle cx="1712.6" cy="152.5" r="8.4" fill="#4682b4" stroke="#fff" stroke-width="1.0"/>
<circle cx="1760.5" cy="89.2" r="8.4" fill="#4682b4" stroke="#fff" stroke-width="1.0"/>
<circle cx="1777.0" cy="89.2" r="8.4" fill="#4682b4" stroke="#fff" stroke-width="1.0"/>
<circle cx="1786.9" cy="78.7" r="8.4" fill="#4682b4" stroke="#fff" stroke-width="1.0"/>
<circle cx="1802.4" cy="87.0" r="8.4" fill="#4682b4" stroke="#fff" stroke-width="1.0"/>
<circle cx="1750.6" cy="97.4" r="8.4" fill="#4682b4" stroke="#fff" stroke-width="1.0"/>
<circle cx="1735.8" cy="112.8" r="8.4" fill="#4682b4" stroke="#fff" stroke-width="1.0"/>
<circle cx="1750.1" cy="112.8" r="8.4" fill="#4682b4" stroke="#fff" stroke-width="1.0"/>
<circle cx="1762.2" cy="129.3" r="8.4" fill="#4682b4" stroke="#fff" stroke-width="1.0"/>
<circle cx="1784.2" cy="134.3" r="8.4" fill="#4682b4" stroke="#fff" stroke-width="1.0"/>
<circle cx="1815.0" cy="111.2" r="8.4" fill="#4682b4" stroke="#fff" stroke-width="1.0"/>
<circle cx="1834.8" cy="128.2" r="8.4" fill="#4682b4" stroke="#fff" stroke-width="1.0"/>
<circle cx="1817.2" cy="141.5" r="8.4" fill="#4682b4" stroke="#fff" stroke-width="1.0"/>
<circle cx="1835.9" cy="148.1" r="8.4" fill="#4682b4" stroke="#fff" stroke-width="1.0"/>
<circle cx="1742.9" cy="162.4" r="8.4" fill="#4682b4" stroke="#fff" stroke-width="1.0"/>
<circle cx="1783.1" cy="155.2" r="8.4" fill="#4682b4" stroke="#fff" stroke-width="1.0"/>
<circle cx="1771.5" cy="173.4" r="8.4" fill="#4682b4" stroke="#fff" stroke-width="1.0"/>
<circle cx="1714.8" cy="185.5" r="8.4" fill="#4682b4" stroke="#fff" stroke-width="1.0"/>
<circle cx="1729.7" cy="199.8" r="8.4" fill="#4682b4" stroke="#fff" stroke-width="1.0"/>
<circle cx="1885.4" cy="112.0" r="8.4" fill="#4682b4" stroke="#fff" stroke-width="1.0"/>
<circle cx="1901.7" cy="101.4" r="8.4" fill="#4682b4" stroke="#fff" stroke-width="1.0"/>
<circle cx="1915.4" cy="91.3" r="8.4" fill="#4682b4" stroke="#fff" stroke-width="1.0"/>
<circle cx="1896.9" cy="121.6" r="8.4" fill="#4682b4" stroke="#fff" stroke-width="1.0"/>
<circle cx="1872.6" cy="138.4" r="8.4" fill="#4682b4" stroke="#fff" stroke-width="1.0"/>
<circle cx="1871.3" cy="154.7" r="8.4" fill="#4682b4" stroke="#fff" stroke-width="1.0"/>
<circle cx="1879.7" cy="200.5" r="8.4" fill="#4682b4" stroke="#fff" stroke-width="1.0"/>
<circle cx="1915.4" cy="200.3" r="8.4" fill="#4682b4" stroke="#fff" stroke-width="1.0"/>
<circle cx="1927.2" cy="145.9" r="8.4" fill="#4682b4" stroke="#fff" stroke-width="1.0"/>
<circle cx="1642.7" cy="211.4" r="8.4" fill="#4682b4" stroke="#fff" stroke-width="1.0"/>
<circle cx="1600.3" cy="225.1" r="8.4" fill="#4682b4" stroke="#fff" stroke-width="1.0"/>
<circle cx="1502.9" cy="243.3" r="8.4" fill="#4682b4" stroke="#fff" stroke-width="1.0"/>
<circle cx="1554.4" cy="265.3" r="8.4" fill="#4682b4" stroke="#fff" stroke-width="1.0"/>
<circle cx="1532.4" cy="275.2" r="8.4" fill="#4682b4" stroke="#fff" stroke-width="1.0"/>
<circle cx="1735.6" cy="227.2" r="8.4" fill="#4682b4" stroke="#fff" stroke-width="1.0"/>
<circle cx="1803.8" cy="209.9" r="8.4" fill="#4682b4" stroke="#fff" stroke-width="1.0"/>
<circle cx="1828.4" cy="218.4" r="8.4" fill="#4682b4" stroke="#fff" stroke-width="1.0"/>
<circle cx="1728.1" cy="292.7" r="8.4" fill="#4682b4" stroke="#fff" stroke-width="1.0"/>
<circle cx="1740.4" cy="325.3" r="8.4" fill="#4682b4" stroke="#fff" stroke-width="1.0"/>
<circle cx="1667.4" cy="398.6" r="8.4" fill="#4682b4" stroke="#fff" stroke-width="1.0"/>
<polyline points="198.1,591.9 226.1,591.0 263.6,590.0 289.8,587.8 304.7,584.4 319.7,580.7 329.1,578.8 342.2,572.3 353.4,567.6 368.4,562.0 379.6,559.2 394.6,554.5 405.8,549.8 418.9,544.2 432.0,540.5 445.1,530.2 458.2,526.4 473.1,519.9 486.2,513.3 496.5,515.2 510.2,505.6 522.4,500.5 534.6,493.4 546.8,488.3 559.1,482.2 575.3,475.7 587.6,473.0 599.8,467.9 610.0,461.2 622.2,456.3 632.4,454.7 642.5,452.6 650.7,448.6 662.9,439.4 677.2,436.4 689.4,432.3 701.6,429.2 715.8,420.1 728.1,413.3 740.3,415.0 752.5,407.9 766.8,398.1 779.0,396.7 793.2,389.5 805.4,384.4 817.7,385.5 825.8,378.3 833.0,371.8" fill="none" stroke="#ff1e0e" stroke-width="7.3" stroke-linejoin="round" stroke-linecap="butt"/>
<polyline points="200.0,584.4 213.0,577.0 226.1,573.2 241.1,560.1 259.8,550.8 278.5,539.5 301.0,523.6 314.1,516.1 327.2,505.8 349.6,491.8 357.1,487.1 368.4,482.4 385.2,471.2 402.0,460.0 409.5,455.3 420.7,453.4 435.7,442.2 447.0,434.7 458.2,429.1 473.1,417.9 486.2,408.5 497.5,405.7 512.5,398.9 522.0,394.7 533.5,384.8 545.0,379.5 558.6,372.2 571.1,367.0 586.8,355.0 600.4,360.7 614.0,348.2 625.5,344.0 636.0,339.8 648.5,334.6 659.0,329.3 672.5,321.5 680.0,318.9 690.5,316.8 700.9,312.6 716.6,300.0 727.1,294.3 738.6,293.3 753.2,289.1 766.8,283.9 778.3,283.3 792.9,275.0 804.4,270.8 817.0,269.2 833.7,259.8" fill="none" stroke="#b4190f" stroke-width="7.3" stroke-linejoin="round" stroke-linecap="butt"/>
<polyline points="200.0,562.9 207.4,550.7 213.0,542.3 226.1,536.7 238.3,517.1 254.2,505.8 267.3,493.7 282.3,481.5 301.0,462.8 319.7,448.8 342.2,429.1 355.3,418.8 368.4,413.2 385.2,401.0 394.6,394.5 407.6,382.3 418.9,381.4 432.0,369.2 445.1,354.3 458.2,351.5 473.1,336.5 486.2,329.9 497.5,327.1 510.5,319.9 522.0,313.7 534.5,301.1 547.1,297.4 562.7,287.0 571.1,283.9 585.7,273.9 600.4,280.7 613.0,268.7 623.4,263.5 636.0,258.2 648.5,252.5 660.0,247.3 672.5,242.5 680.0,242.0 689.4,239.9 698.8,232.6 711.4,226.3 726.0,218.0 738.6,220.1 753.2,216.9 766.8,211.7 778.3,212.2 792.9,203.3 804.4,199.7 817.0,199.7 833.7,190.3" fill="none" stroke="#800f0b" stroke-width="7.3" stroke-linejoin="round" stroke-linecap="butt"/>
<polyline points="1313.2,155.4 1327.5,162.6 1344.0,170.8 1366.0,180.7 1393.6,190.6 1421.1,201.6 1448.6,212.1 1476.1,223.7 1487.1,226.4 1500.0,229.2 1512.8,233.9 1526.0,238.3 1542.6,243.8 1556.9,247.1 1570.1,252.6 1586.6,257.0 1603.1,264.8 1621.8,273.6 1636.1,274.7 1660.0,284.6 1675.2,289.2 1706.9,298.0 1731.6,309.4 1749.2,313.0 1763.3,320.0 1779.1,321.8 1791.5,331.5 1805.6,329.7 1821.4,335.0 1842.5,345.5 1860.1,355.2 1874.2,356.1 1907.7,366.7 1932.4,375.5" fill="none" stroke="#ff1e0e" stroke-width="7.3" stroke-linejoin="round" stroke-linecap="butt"/>
<polyline points="1312.5,114.0 1371.6,126.5 1443.1,140.8 1514.7,155.1 1586.2,173.0 1622.0,182.0 1657.8,189.1 1693.6,198.1 1711.4,205.2 1747.2,212.4 1765.1,219.5 1800.9,226.7 1833.1,233.8 1858.1,244.6 1879.6,246.4 1908.2,257.1 1933.3,266.5" fill="none" stroke="#b4190f" stroke-width="7.3" stroke-linejoin="round" stroke-linecap="butt"/>
<polyline points="1312.5,96.1 1371.6,106.8 1443.1,115.8 1514.7,122.9 1586.2,131.9 1657.8,142.6 1693.6,148.0 1729.3,153.3 1765.1,160.5 1800.9,165.9 1836.7,172.3 1848.4,176.2 1859.9,180.6 1874.9,178.9 1896.9,185.0 1914.5,189.4 1933.0,197.4" fill="none" stroke="#640a0a" stroke-width="7.3" stroke-linejoin="round" stroke-linecap="butt"/>
<text transform="translate(79.5,311.8) rotate(-90)" font-size="40.6" text-anchor="middle" font-family='"DejaVu Sans", "Liberation Sans", sans-serif' ><tspan>−</tspan><tspan font-style="italic">log</tspan><tspan font-size="28.4" dy="8.2">10</tspan><tspan font-style="italic" dy="-8.2">p</tspan><tspan font-style="italic" font-size="28.4" dy="8.2">add</tspan></text>
<text transform="translate(1179.5,311.8) rotate(-90)" font-size="40.6" text-anchor="middle" font-family='"DejaVu Sans", "Liberation Sans", sans-serif' ><tspan>−</tspan><tspan font-style="italic">log</tspan><tspan font-size="28.4" dy="8.2">10</tspan><tspan font-style="italic" dy="-8.2">p</tspan><tspan font-style="italic" font-size="28.4" dy="8.2">add</tspan></text>
<text transform="translate(72.6,1063.0) rotate(-90)" font-size="39.9" text-anchor="middle" font-family='"DejaVu Sans", "Liberation Sans", sans-serif' >Retained</text>
<text transform="translate(1164.2,1066.3) rotate(-90)" font-size="41.7" text-anchor="middle" font-family='"DejaVu Sans", "Liberation Sans", sans-serif' >Retained</text>
<text transform="translate(68.3,1533.6) rotate(-90)" font-size="34.5" text-anchor="middle" font-family='"DejaVu Sans", "Liberation Sans", sans-serif' >Fold reduction</text>
<text transform="translate(1158.3,1537.3) rotate(-90)" font-size="32.7" text-anchor="middle" font-family='"DejaVu Sans", "Liberation Sans", sans-serif' >Fold reduction</text>
<text transform="translate(68.3,2018.2) rotate(-90)" font-size="35.2" text-anchor="middle" font-family='"DejaVu Sans", "Liberation Sans", sans-serif' >Fold reduction</text>
<text transform="translate(1157.9,2016.0) rotate(-90)" font-size="35.1" text-anchor="middle" font-family='"DejaVu Sans", "Liberation Sans", sans-serif' >Fold reduction</text>
<line x1="170.5" y1="44.0" x2="170.5" y2="595.1" stroke="#000" stroke-width="2.2"/>
<line x1="162.0" y1="594.0" x2="862.0" y2="594.0" stroke="#000" stroke-width="2.2"/>
<line x1="188.8" y1="594.0" x2="188.8" y2="602.5" stroke="#000" stroke-width="2.2"/>
<text transform="translate(188.8,638.8) scale(0.94,1)" font-size="36.7" text-anchor="middle" font-family='"DejaVu Sans", "Liberation Sans", sans-serif' >0.0</text>
<line x1="317.3" y1="594.0" x2="317.3" y2="602.5" stroke="#000" stroke-width="2.2"/>
<text transform="translate(317.3,638.8) scale(0.94,1)" font-size="36.7" text-anchor="middle" font-family='"DejaVu Sans", "Liberation Sans", sans-serif' >0.1</text>
<line x1="445.8" y1="594.0" x2="445.8" y2="602.5" stroke="#000" stroke-width="2.2"/>
<text transform="translate(445.8,638.8) scale(0.94,1)" font-size="36.7" text-anchor="middle" font-family='"DejaVu Sans", "Liberation Sans", sans-serif' >0.2</text>
<line x1="574.3" y1="594.0" x2="574.3" y2="602.5" stroke="#000" stroke-width="2.2"/>
<text transform="translate(574.3,638.8) scale(0.94,1)" font-size="36.7" text-anchor="middle" font-family='"DejaVu Sans", "Liberation Sans", sans-serif' >0.3</text>
<line x1="702.8" y1="594.0" x2="702.8" y2="602.5" stroke="#000" stroke-width="2.2"/>
<text transform="translate(702.8,638.8) scale(0.94,1)" font-size="36.7" text-anchor="middle" font-family='"DejaVu Sans", "Liberation Sans", sans-serif' >0.4</text>
<line x1="831.3" y1="594.0" x2="831.3" y2="602.5" stroke="#000" stroke-width="2.2"/>
<text transform="translate(831.3,638.8) scale(0.94,1)" font-size="36.7" text-anchor="middle" font-family='"DejaVu Sans", "Liberation Sans", sans-serif' >0.5</text>
<line x1="162.0" y1="593.5" x2="170.5" y2="593.5" stroke="#000" stroke-width="2.2"/>
<text transform="translate(153.4,606.9) scale(0.94,1)" font-size="36.7" text-anchor="end" font-family='"DejaVu Sans", "Liberation Sans", sans-serif' >0.0</text>
<line x1="162.0" y1="452.5" x2="170.5" y2="452.5" stroke="#000" stroke-width="2.2"/>
<text transform="translate(153.4,465.9) scale(0.94,1)" font-size="36.7" text-anchor="end" font-family='"DejaVu Sans", "Liberation Sans", sans-serif' >2.0</text>
<line x1="162.0" y1="311.5" x2="170.5" y2="311.5" stroke="#000" stroke-width="2.2"/>
<text transform="translate(153.4,324.9) scale(0.94,1)" font-size="36.7" text-anchor="end" font-family='"DejaVu Sans", "Liberation Sans", sans-serif' >4.0</text>
<line x1="162.0" y1="78.9" x2="170.5" y2="78.9" stroke="#000" stroke-width="2.2"/>
<text transform="translate(153.4,92.2) scale(0.94,1)" font-size="36.7" text-anchor="end" font-family='"DejaVu Sans", "Liberation Sans", sans-serif' >7.3</text>
<text x="515.6" y="686.5" font-size="40" text-anchor="middle" font-family='"DejaVu Sans", "Liberation Sans", sans-serif' >AF</text>
<text x="261.0" y="34.8" font-size="36.9" text-anchor="start" font-family='"DejaVu Sans", "Liberation Sans", sans-serif' >New recessive hits in 19 GWAS</text>
<line x1="1271.0" y1="41.5" x2="1271.0" y2="595.7" stroke="#000" stroke-width="2.2"/>
<line x1="1265.0" y1="594.6" x2="1962.0" y2="594.6" stroke="#000" stroke-width="2.2"/>
<line x1="1372.2" y1="594.6" x2="1372.2" y2="603.1" stroke="#000" stroke-width="2.2"/>
<text transform="translate(1372.2,639.4) scale(0.94,1)" font-size="36.7" text-anchor="middle" font-family='"DejaVu Sans", "Liberation Sans", sans-serif' >0.1</text>
<line x1="1512.2" y1="594.6" x2="1512.2" y2="603.1" stroke="#000" stroke-width="2.2"/>
<text transform="translate(1512.2,639.4) scale(0.94,1)" font-size="36.7" text-anchor="middle" font-family='"DejaVu Sans", "Liberation Sans", sans-serif' >0.2</text>
<line x1="1652.1" y1="594.6" x2="1652.1" y2="603.1" stroke="#000" stroke-width="2.2"/>
<text transform="translate(1652.1,639.4) scale(0.94,1)" font-size="36.7" text-anchor="middle" font-family='"DejaVu Sans", "Liberation Sans", sans-serif' >0.3</text>
<line x1="1792.0" y1="594.6" x2="1792.0" y2="603.1" stroke="#000" stroke-width="2.2"/>
<text transform="translate(1792.0,639.4) scale(0.94,1)" font-size="36.7" text-anchor="middle" font-family='"DejaVu Sans", "Liberation Sans", sans-serif' >0.4</text>
<line x1="1932.0" y1="594.6" x2="1932.0" y2="603.1" stroke="#000" stroke-width="2.2"/>
<text transform="translate(1932.0,639.4) scale(0.94,1)" font-size="36.7" text-anchor="middle" font-family='"DejaVu Sans", "Liberation Sans", sans-serif' >0.5</text>
<line x1="1262.5" y1="594.6" x2="1271.0" y2="594.6" stroke="#000" stroke-width="2.2"/>
<text transform="translate(1253.9,608.0) scale(0.94,1)" font-size="36.7" text-anchor="end" font-family='"DejaVu Sans", "Liberation Sans", sans-serif' >0.0</text>
<line x1="1262.5" y1="453.6" x2="1271.0" y2="453.6" stroke="#000" stroke-width="2.2"/>
<text transform="translate(1253.9,467.0) scale(0.94,1)" font-size="36.7" text-anchor="end" font-family='"DejaVu Sans", "Liberation Sans", sans-serif' >2.0</text>
<line x1="1262.5" y1="312.6" x2="1271.0" y2="312.6" stroke="#000" stroke-width="2.2"/>
<text transform="translate(1253.9,326.0) scale(0.94,1)" font-size="36.7" text-anchor="end" font-family='"DejaVu Sans", "Liberation Sans", sans-serif' >4.0</text>
<line x1="1262.5" y1="80.0" x2="1271.0" y2="80.0" stroke="#000" stroke-width="2.2"/>
<text transform="translate(1253.9,93.3) scale(0.94,1)" font-size="36.7" text-anchor="end" font-family='"DejaVu Sans", "Liberation Sans", sans-serif' >7.3</text>
<text x="1616.8" y="686.0" font-size="40" text-anchor="middle" font-family='"DejaVu Sans", "Liberation Sans", sans-serif' >AF</text>
<text x="1358.0" y="33.7" font-size="38.2" text-anchor="start" font-family='"DejaVu Sans", "Liberation Sans", sans-serif' >New dominant hits in 19 GWAS</text>
<text transform="translate(163.9,761.8) scale(0.935,1)" font-size="34.3" text-anchor="start" font-family='"DejaVu Sans", "Liberation Sans", sans-serif' >Thresholds with theoretical discovery rates:</text>
<line x1="205.5" y1="799.2" x2="277.0" y2="799.2" stroke="#ff1e0e" stroke-width="7.6"/>
<text transform="translate(300.0,810.8) scale(0.935,1)" font-size="34.3" text-anchor="start" font-family='"DejaVu Sans", "Liberation Sans", sans-serif' >99%</text>
<line x1="432.3" y1="799.2" x2="503.8" y2="799.2" stroke="#b4190f" stroke-width="7.6"/>
<text transform="translate(526.8,810.8) scale(0.935,1)" font-size="34.3" text-anchor="start" font-family='"DejaVu Sans", "Liberation Sans", sans-serif' >80%</text>
<line x1="659.1" y1="799.2" x2="730.6" y2="799.2" stroke="#800f0b" stroke-width="7.6"/>
<text transform="translate(753.6,810.8) scale(0.935,1)" font-size="34.3" text-anchor="start" font-family='"DejaVu Sans", "Liberation Sans", sans-serif' >50%</text>
<text transform="translate(1264.3,761.8) scale(0.935,1)" font-size="34.3" text-anchor="start" font-family='"DejaVu Sans", "Liberation Sans", sans-serif' >Thresholds with theoretical discovery rates:</text>
<line x1="1305.9" y1="799.2" x2="1377.4" y2="799.2" stroke="#ff1e0e" stroke-width="7.6"/>
<text transform="translate(1400.4,810.8) scale(0.935,1)" font-size="34.3" text-anchor="start" font-family='"DejaVu Sans", "Liberation Sans", sans-serif' >99%</text>
<line x1="1532.7" y1="799.2" x2="1604.2" y2="799.2" stroke="#b4190f" stroke-width="7.6"/>
<text transform="translate(1627.2,810.8) scale(0.935,1)" font-size="34.3" text-anchor="start" font-family='"DejaVu Sans", "Liberation Sans", sans-serif' >80%</text>
<line x1="1759.5" y1="799.2" x2="1831.0" y2="799.2" stroke="#640a0a" stroke-width="7.6"/>
<text transform="translate(1854.0,810.8) scale(0.935,1)" font-size="34.3" text-anchor="start" font-family='"DejaVu Sans", "Liberation Sans", sans-serif' >50%</text>
<line x1="165.7" y1="923.0" x2="165.7" y2="1203.6" stroke="#000" stroke-width="2.2"/>
<line x1="165.0" y1="1202.5" x2="869.6" y2="1202.5" stroke="#000" stroke-width="2.2"/>
<line x1="197.0" y1="1202.5" x2="197.0" y2="1211.0" stroke="#000" stroke-width="2.2"/>
<text x="197.0" y="1246.3" font-size="34.7" text-anchor="middle" font-family='"DejaVu Sans", "Liberation Sans", sans-serif' >0.0</text>
<line x1="325.0" y1="1202.5" x2="325.0" y2="1211.0" stroke="#000" stroke-width="2.2"/>
<text x="325.0" y="1246.3" font-size="34.7" text-anchor="middle" font-family='"DejaVu Sans", "Liberation Sans", sans-serif' >0.2</text>
<line x1="453.0" y1="1202.5" x2="453.0" y2="1211.0" stroke="#000" stroke-width="2.2"/>
<text x="453.0" y="1246.3" font-size="34.7" text-anchor="middle" font-family='"DejaVu Sans", "Liberation Sans", sans-serif' >0.4</text>
<line x1="581.0" y1="1202.5" x2="581.0" y2="1211.0" stroke="#000" stroke-width="2.2"/>
<text x="581.0" y="1246.3" font-size="34.7" text-anchor="middle" font-family='"DejaVu Sans", "Liberation Sans", sans-serif' >0.6</text>
<line x1="709.0" y1="1202.5" x2="709.0" y2="1211.0" stroke="#000" stroke-width="2.2"/>
<text x="709.0" y="1246.3" font-size="34.7" text-anchor="middle" font-family='"DejaVu Sans", "Liberation Sans", sans-serif' >0.8</text>
<line x1="837.0" y1="1202.5" x2="837.0" y2="1211.0" stroke="#000" stroke-width="2.2"/>
<text x="837.0" y="1246.3" font-size="34.7" text-anchor="middle" font-family='"DejaVu Sans", "Liberation Sans", sans-serif' >1.0</text>
<line x1="157.2" y1="1189.8" x2="165.7" y2="1189.8" stroke="#000" stroke-width="2.2"/>
<text x="147.7" y="1202.4" font-size="34.7" text-anchor="end" font-family='"DejaVu Sans", "Liberation Sans", sans-serif' >0.0</text>
<line x1="157.2" y1="1063.2" x2="165.7" y2="1063.2" stroke="#000" stroke-width="2.2"/>
<text x="147.7" y="1075.9" font-size="34.7" text-anchor="end" font-family='"DejaVu Sans", "Liberation Sans", sans-serif' >0.5</text>
<line x1="157.2" y1="936.7" x2="165.7" y2="936.7" stroke="#000" stroke-width="2.2"/>
<text x="147.7" y="949.3" font-size="34.7" text-anchor="end" font-family='"DejaVu Sans", "Liberation Sans", sans-serif' >1.0</text>
<text x="517.0" y="1295.0" font-size="40.2" text-anchor="middle" font-family='"DejaVu Sans", "Liberation Sans", sans-serif' >Theoretical discovery rate</text>
<line x1="1258.3" y1="922.3" x2="1258.3" y2="1208.8" stroke="#000" stroke-width="2.2"/>
<line x1="1258.3" y1="1207.7" x2="1981.7" y2="1207.7" stroke="#000" stroke-width="2.2"/>
<line x1="1291.5" y1="1207.7" x2="1291.5" y2="1216.2" stroke="#000" stroke-width="2.2"/>
<text x="1291.5" y="1251.5" font-size="34.7" text-anchor="middle" font-family='"DejaVu Sans", "Liberation Sans", sans-serif' >0.0</text>
<line x1="1422.7" y1="1207.7" x2="1422.7" y2="1216.2" stroke="#000" stroke-width="2.2"/>
<text x="1422.7" y="1251.5" font-size="34.7" text-anchor="middle" font-family='"DejaVu Sans", "Liberation Sans", sans-serif' >0.2</text>
<line x1="1553.9" y1="1207.7" x2="1553.9" y2="1216.2" stroke="#000" stroke-width="2.2"/>
<text x="1553.9" y="1251.5" font-size="34.7" text-anchor="middle" font-family='"DejaVu Sans", "Liberation Sans", sans-serif' >0.4</text>
<line x1="1685.1" y1="1207.7" x2="1685.1" y2="1216.2" stroke="#000" stroke-width="2.2"/>
<text x="1685.1" y="1251.5" font-size="34.7" text-anchor="middle" font-family='"DejaVu Sans", "Liberation Sans", sans-serif' >0.6</text>
<line x1="1816.3" y1="1207.7" x2="1816.3" y2="1216.2" stroke="#000" stroke-width="2.2"/>
<text x="1816.3" y="1251.5" font-size="34.7" text-anchor="middle" font-family='"DejaVu Sans", "Liberation Sans", sans-serif' >0.8</text>
<line x1="1947.5" y1="1207.7" x2="1947.5" y2="1216.2" stroke="#000" stroke-width="2.2"/>
<text x="1947.5" y="1251.5" font-size="34.7" text-anchor="middle" font-family='"DejaVu Sans", "Liberation Sans", sans-serif' >1.0</text>
<line x1="1249.8" y1="1195.0" x2="1258.3" y2="1195.0" stroke="#000" stroke-width="2.2"/>
<text x="1240.3" y="1207.6" font-size="34.7" text-anchor="end" font-family='"DejaVu Sans", "Liberation Sans", sans-serif' >0.0</text>
<line x1="1249.8" y1="1065.0" x2="1258.3" y2="1065.0" stroke="#000" stroke-width="2.2"/>
<text x="1240.3" y="1077.6" font-size="34.7" text-anchor="end" font-family='"DejaVu Sans", "Liberation Sans", sans-serif' >0.5</text>
<line x1="1249.8" y1="935.0" x2="1258.3" y2="935.0" stroke="#000" stroke-width="2.2"/>
<text x="1240.3" y="947.6" font-size="34.7" text-anchor="end" font-family='"DejaVu Sans", "Liberation Sans", sans-serif' >1.0</text>
<text x="1619.5" y="1302.5" font-size="41.2" text-anchor="middle" font-family='"DejaVu Sans", "Liberation Sans", sans-serif' >Theoretical discovery rate</text>
<line x1="166.8" y1="1396.3" x2="166.8" y2="1677.5" stroke="#000" stroke-width="2.2"/>
<line x1="166.8" y1="1676.4" x2="870.7" y2="1676.4" stroke="#000" stroke-width="2.2"/>
<line x1="191.8" y1="1676.4" x2="191.8" y2="1684.9" stroke="#000" stroke-width="2.2"/>
<text transform="translate(191.8,1719.3) scale(0.965,1)" font-size="33.5" text-anchor="middle" font-family='"DejaVu Sans", "Liberation Sans", sans-serif' >0.0</text>
<line x1="322.6" y1="1676.4" x2="322.6" y2="1684.9" stroke="#000" stroke-width="2.2"/>
<text transform="translate(322.6,1719.3) scale(0.965,1)" font-size="33.5" text-anchor="middle" font-family='"DejaVu Sans", "Liberation Sans", sans-serif' >0.2</text>
<line x1="453.3" y1="1676.4" x2="453.3" y2="1684.9" stroke="#000" stroke-width="2.2"/>
<text transform="translate(453.3,1719.3) scale(0.965,1)" font-size="33.5" text-anchor="middle" font-family='"DejaVu Sans", "Liberation Sans", sans-serif' >0.4</text>
<line x1="584.1" y1="1676.4" x2="584.1" y2="1684.9" stroke="#000" stroke-width="2.2"/>
<text transform="translate(584.1,1719.3) scale(0.965,1)" font-size="33.5" text-anchor="middle" font-family='"DejaVu Sans", "Liberation Sans", sans-serif' >0.6</text>
<line x1="714.8" y1="1676.4" x2="714.8" y2="1684.9" stroke="#000" stroke-width="2.2"/>
<text transform="translate(714.8,1719.3) scale(0.965,1)" font-size="33.5" text-anchor="middle" font-family='"DejaVu Sans", "Liberation Sans", sans-serif' >0.8</text>
<line x1="845.6" y1="1676.4" x2="845.6" y2="1684.9" stroke="#000" stroke-width="2.2"/>
<text transform="translate(845.6,1719.3) scale(0.965,1)" font-size="33.5" text-anchor="middle" font-family='"DejaVu Sans", "Liberation Sans", sans-serif' >1.0</text>
<line x1="158.3" y1="1664.8" x2="166.8" y2="1664.8" stroke="#000" stroke-width="2.2"/>
<text transform="translate(148.3,1677.0) scale(0.965,1)" font-size="33.5" text-anchor="end" font-family='"DejaVu Sans", "Liberation Sans", sans-serif' >0</text>
<line x1="158.3" y1="1579.7" x2="166.8" y2="1579.7" stroke="#000" stroke-width="2.2"/>
<text transform="translate(148.3,1591.9) scale(0.965,1)" font-size="33.5" text-anchor="end" font-family='"DejaVu Sans", "Liberation Sans", sans-serif' >250</text>
<line x1="158.3" y1="1494.5" x2="166.8" y2="1494.5" stroke="#000" stroke-width="2.2"/>
<text transform="translate(148.3,1506.7) scale(0.965,1)" font-size="33.5" text-anchor="end" font-family='"DejaVu Sans", "Liberation Sans", sans-serif' >500</text>
<line x1="158.3" y1="1409.4" x2="166.8" y2="1409.4" stroke="#000" stroke-width="2.2"/>
<text transform="translate(148.3,1421.6) scale(0.965,1)" font-size="33.5" text-anchor="end" font-family='"DejaVu Sans", "Liberation Sans", sans-serif' >750</text>
<text x="518.0" y="1762.5" font-size="35.3" text-anchor="middle" font-family='"DejaVu Sans", "Liberation Sans", sans-serif' >Theoretical discovery rate</text>
<line x1="1276.5" y1="1396.8" x2="1276.5" y2="1679.4" stroke="#000" stroke-width="2.2"/>
<line x1="1276.5" y1="1678.3" x2="1981.7" y2="1678.3" stroke="#000" stroke-width="2.2"/>
<line x1="1301.4" y1="1678.3" x2="1301.4" y2="1686.8" stroke="#000" stroke-width="2.2"/>
<text x="1301.4" y="1720.5" font-size="32.5" text-anchor="middle" font-family='"DejaVu Sans", "Liberation Sans", sans-serif' >0.0</text>
<line x1="1432.2" y1="1678.3" x2="1432.2" y2="1686.8" stroke="#000" stroke-width="2.2"/>
<text x="1432.2" y="1720.5" font-size="32.5" text-anchor="middle" font-family='"DejaVu Sans", "Liberation Sans", sans-serif' >0.2</text>
<line x1="1562.9" y1="1678.3" x2="1562.9" y2="1686.8" stroke="#000" stroke-width="2.2"/>
<text x="1562.9" y="1720.5" font-size="32.5" text-anchor="middle" font-family='"DejaVu Sans", "Liberation Sans", sans-serif' >0.4</text>
<line x1="1693.7" y1="1678.3" x2="1693.7" y2="1686.8" stroke="#000" stroke-width="2.2"/>
<text x="1693.7" y="1720.5" font-size="32.5" text-anchor="middle" font-family='"DejaVu Sans", "Liberation Sans", sans-serif' >0.6</text>
<line x1="1824.4" y1="1678.3" x2="1824.4" y2="1686.8" stroke="#000" stroke-width="2.2"/>
<text x="1824.4" y="1720.5" font-size="32.5" text-anchor="middle" font-family='"DejaVu Sans", "Liberation Sans", sans-serif' >0.8</text>
<line x1="1955.2" y1="1678.3" x2="1955.2" y2="1686.8" stroke="#000" stroke-width="2.2"/>
<text x="1955.2" y="1720.5" font-size="32.5" text-anchor="middle" font-family='"DejaVu Sans", "Liberation Sans", sans-serif' >1.0</text>
<line x1="1268.0" y1="1678.3" x2="1276.5" y2="1678.3" stroke="#000" stroke-width="2.2"/>
<text x="1258.0" y="1690.1" font-size="32.5" text-anchor="end" font-family='"DejaVu Sans", "Liberation Sans", sans-serif' >0</text>
<line x1="1268.0" y1="1597.9" x2="1276.5" y2="1597.9" stroke="#000" stroke-width="2.2"/>
<text x="1258.0" y="1609.8" font-size="32.5" text-anchor="end" font-family='"DejaVu Sans", "Liberation Sans", sans-serif' >1000</text>
<line x1="1268.0" y1="1517.6" x2="1276.5" y2="1517.6" stroke="#000" stroke-width="2.2"/>
<text x="1258.0" y="1529.4" font-size="32.5" text-anchor="end" font-family='"DejaVu Sans", "Liberation Sans", sans-serif' >2000</text>
<line x1="1268.0" y1="1437.2" x2="1276.5" y2="1437.2" stroke="#000" stroke-width="2.2"/>
<text x="1258.0" y="1449.0" font-size="32.5" text-anchor="end" font-family='"DejaVu Sans", "Liberation Sans", sans-serif' >3000</text>
<text x="1629.0" y="1763.5" font-size="35.3" text-anchor="middle" font-family='"DejaVu Sans", "Liberation Sans", sans-serif' >Theoretical discovery rate</text>
<line x1="166.2" y1="1879.0" x2="166.2" y2="2159.7" stroke="#000" stroke-width="2.2"/>
<line x1="166.2" y1="2158.6" x2="870.7" y2="2158.6" stroke="#000" stroke-width="2.2"/>
<line x1="191.8" y1="2158.6" x2="191.8" y2="2167.1" stroke="#000" stroke-width="2.2"/>
<text transform="translate(191.8,2201.9) scale(0.95,1)" font-size="34" text-anchor="middle" font-family='"DejaVu Sans", "Liberation Sans", sans-serif' >0.0</text>
<line x1="322.6" y1="2158.6" x2="322.6" y2="2167.1" stroke="#000" stroke-width="2.2"/>
<text transform="translate(322.6,2201.9) scale(0.95,1)" font-size="34" text-anchor="middle" font-family='"DejaVu Sans", "Liberation Sans", sans-serif' >0.2</text>
<line x1="453.3" y1="2158.6" x2="453.3" y2="2167.1" stroke="#000" stroke-width="2.2"/>
<text transform="translate(453.3,2201.9) scale(0.95,1)" font-size="34" text-anchor="middle" font-family='"DejaVu Sans", "Liberation Sans", sans-serif' >0.4</text>
<line x1="584.1" y1="2158.6" x2="584.1" y2="2167.1" stroke="#000" stroke-width="2.2"/>
<text transform="translate(584.1,2201.9) scale(0.95,1)" font-size="34" text-anchor="middle" font-family='"DejaVu Sans", "Liberation Sans", sans-serif' >0.6</text>
<line x1="714.8" y1="2158.6" x2="714.8" y2="2167.1" stroke="#000" stroke-width="2.2"/>
<text transform="translate(714.8,2201.9) scale(0.95,1)" font-size="34" text-anchor="middle" font-family='"DejaVu Sans", "Liberation Sans", sans-serif' >0.8</text>
<line x1="845.6" y1="2158.6" x2="845.6" y2="2167.1" stroke="#000" stroke-width="2.2"/>
<text transform="translate(845.6,2201.9) scale(0.95,1)" font-size="34" text-anchor="middle" font-family='"DejaVu Sans", "Liberation Sans", sans-serif' >1.0</text>
<line x1="157.7" y1="2151.3" x2="166.2" y2="2151.3" stroke="#000" stroke-width="2.2"/>
<text transform="translate(147.7,2163.7) scale(0.95,1)" font-size="34" text-anchor="end" font-family='"DejaVu Sans", "Liberation Sans", sans-serif' >0</text>
<line x1="157.7" y1="2061.3" x2="166.2" y2="2061.3" stroke="#000" stroke-width="2.2"/>
<text transform="translate(147.7,2073.7) scale(0.95,1)" font-size="34" text-anchor="end" font-family='"DejaVu Sans", "Liberation Sans", sans-serif' >50</text>
<line x1="157.7" y1="1971.2" x2="166.2" y2="1971.2" stroke="#000" stroke-width="2.2"/>
<text transform="translate(147.7,1983.6) scale(0.95,1)" font-size="34" text-anchor="end" font-family='"DejaVu Sans", "Liberation Sans", sans-serif' >100</text>
<line x1="157.7" y1="1881.2" x2="166.2" y2="1881.2" stroke="#000" stroke-width="2.2"/>
<text transform="translate(147.7,1893.6) scale(0.95,1)" font-size="34" text-anchor="end" font-family='"DejaVu Sans", "Liberation Sans", sans-serif' >150</text>
<text x="518.0" y="2244.0" font-size="35.3" text-anchor="middle" font-family='"DejaVu Sans", "Liberation Sans", sans-serif' >Theoretical discovery rate</text>
<line x1="1276.5" y1="1876.8" x2="1276.5" y2="2157.1" stroke="#000" stroke-width="2.2"/>
<line x1="1276.5" y1="2156.0" x2="1981.7" y2="2156.0" stroke="#000" stroke-width="2.2"/>
<line x1="1301.4" y1="2156.0" x2="1301.4" y2="2164.5" stroke="#000" stroke-width="2.2"/>
<text transform="translate(1301.4,2199.1) scale(0.97,1)" font-size="33.7" text-anchor="middle" font-family='"DejaVu Sans", "Liberation Sans", sans-serif' >0.0</text>
<line x1="1432.2" y1="2156.0" x2="1432.2" y2="2164.5" stroke="#000" stroke-width="2.2"/>
<text transform="translate(1432.2,2199.1) scale(0.97,1)" font-size="33.7" text-anchor="middle" font-family='"DejaVu Sans", "Liberation Sans", sans-serif' >0.2</text>
<line x1="1562.9" y1="2156.0" x2="1562.9" y2="2164.5" stroke="#000" stroke-width="2.2"/>
<text transform="translate(1562.9,2199.1) scale(0.97,1)" font-size="33.7" text-anchor="middle" font-family='"DejaVu Sans", "Liberation Sans", sans-serif' >0.4</text>
<line x1="1693.7" y1="2156.0" x2="1693.7" y2="2164.5" stroke="#000" stroke-width="2.2"/>
<text transform="translate(1693.7,2199.1) scale(0.97,1)" font-size="33.7" text-anchor="middle" font-family='"DejaVu Sans", "Liberation Sans", sans-serif' >0.6</text>
<line x1="1824.4" y1="2156.0" x2="1824.4" y2="2164.5" stroke="#000" stroke-width="2.2"/>
<text transform="translate(1824.4,2199.1) scale(0.97,1)" font-size="33.7" text-anchor="middle" font-family='"DejaVu Sans", "Liberation Sans", sans-serif' >0.8</text>
<line x1="1955.2" y1="2156.0" x2="1955.2" y2="2164.5" stroke="#000" stroke-width="2.2"/>
<text transform="translate(1955.2,2199.1) scale(0.97,1)" font-size="33.7" text-anchor="middle" font-family='"DejaVu Sans", "Liberation Sans", sans-serif' >1.0</text>
<line x1="1268.0" y1="2151.7" x2="1276.5" y2="2151.7" stroke="#000" stroke-width="2.2"/>
<text transform="translate(1258.0,2164.0) scale(0.97,1)" font-size="33.7" text-anchor="end" font-family='"DejaVu Sans", "Liberation Sans", sans-serif' >0</text>
<line x1="1268.0" y1="2071.5" x2="1276.5" y2="2071.5" stroke="#000" stroke-width="2.2"/>
<text transform="translate(1258.0,2083.8) scale(0.97,1)" font-size="33.7" text-anchor="end" font-family='"DejaVu Sans", "Liberation Sans", sans-serif' >500</text>
<line x1="1268.0" y1="1991.2" x2="1276.5" y2="1991.2" stroke="#000" stroke-width="2.2"/>
<text transform="translate(1258.0,2003.5) scale(0.97,1)" font-size="33.7" text-anchor="end" font-family='"DejaVu Sans", "Liberation Sans", sans-serif' >1000</text>
<line x1="1268.0" y1="1911.0" x2="1276.5" y2="1911.0" stroke="#000" stroke-width="2.2"/>
<text transform="translate(1258.0,1923.3) scale(0.97,1)" font-size="33.7" text-anchor="end" font-family='"DejaVu Sans", "Liberation Sans", sans-serif' >1500</text>
<text x="1629.0" y="2242.0" font-size="35.3" text-anchor="middle" font-family='"DejaVu Sans", "Liberation Sans", sans-serif' >Theoretical discovery rate</text>
<text transform="translate(2.4,69.3) scale(0.965,1)" font-size="94.8" text-anchor="start" font-family='"Liberation Sans", "DejaVu Sans", sans-serif' >A</text>
<text transform="translate(1113.4,69.1) scale(0.965,1)" font-size="94.8" text-anchor="start" font-family='"Liberation Sans", "DejaVu Sans", sans-serif' >B</text>
<text transform="translate(1.6,926.7) scale(0.965,1)" font-size="94.8" text-anchor="start" font-family='"Liberation Sans", "DejaVu Sans", sans-serif' >C</text>
<text transform="translate(1111.2,914.6) scale(0.965,1)" font-size="94.8" text-anchor="start" font-family='"Liberation Sans", "DejaVu Sans", sans-serif' >D</text>
<text transform="translate(2.0,1376.4) scale(0.965,1)" font-size="94.8" text-anchor="start" font-family='"Liberation Sans", "DejaVu Sans", sans-serif' >E</text>
<text transform="translate(1116.9,1376.2) scale(0.965,1)" font-size="94.8" text-anchor="start" font-family='"Liberation Sans", "DejaVu Sans", sans-serif' >F</text>
<text transform="translate(-2.2,1851.0) scale(0.965,1)" font-size="94.8" text-anchor="start" font-family='"Liberation Sans", "DejaVu Sans", sans-serif' >G</text>
<text transform="translate(1097.5,1851.0) scale(0.965,1)" font-size="94.8" text-anchor="start" font-family='"Liberation Sans", "DejaVu Sans", sans-serif' >H</text>
</svg></body></html>
